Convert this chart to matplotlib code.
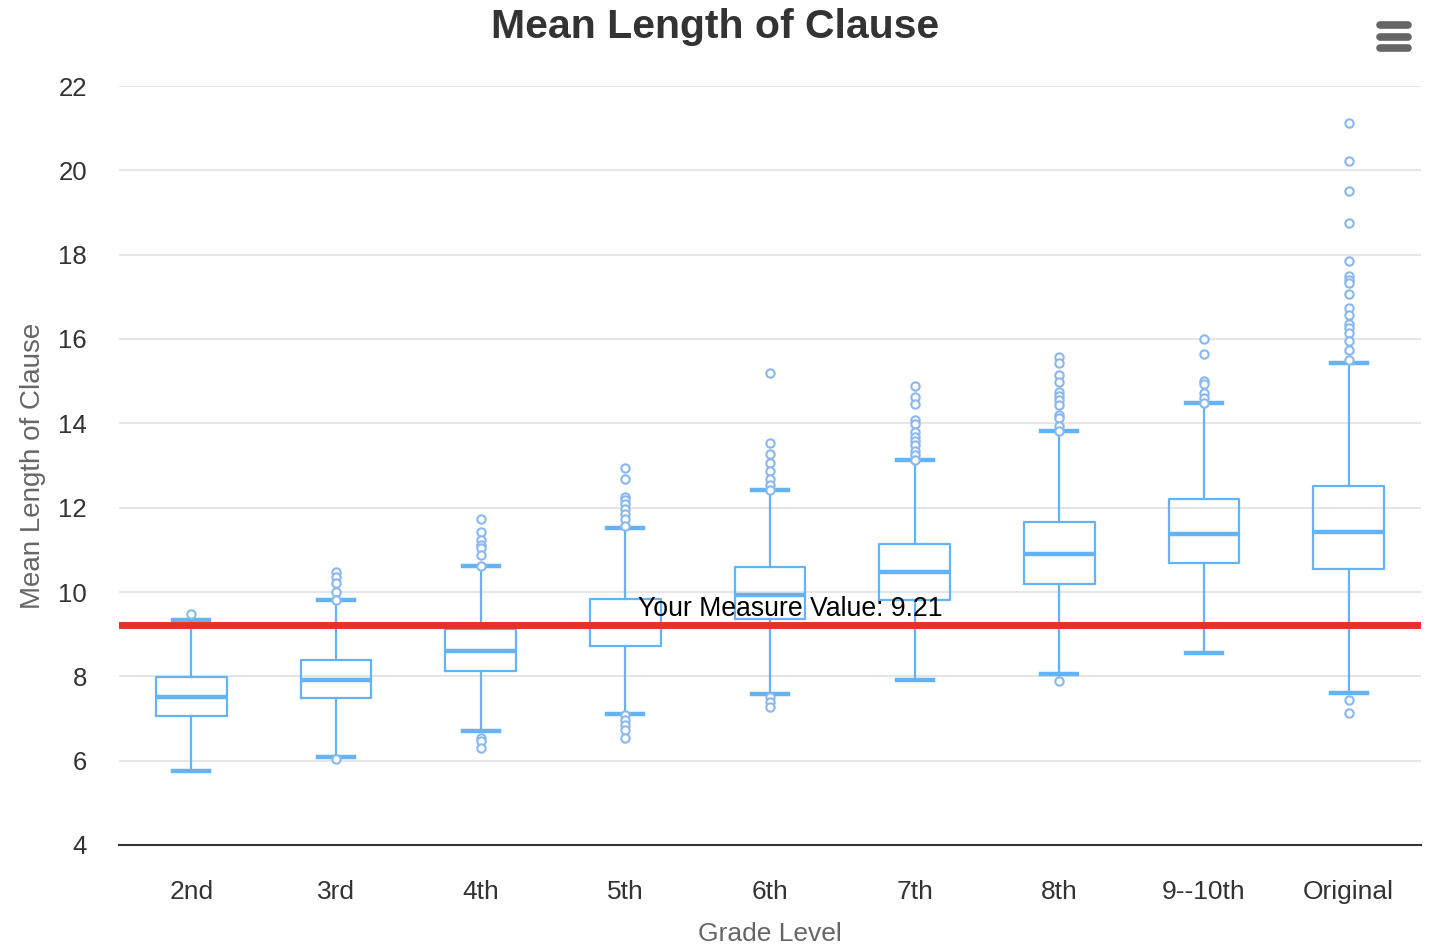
import matplotlib
matplotlib.use("Agg")
import matplotlib.pyplot as plt
from matplotlib.lines import Line2D

plt.rcParams["font.family"] = ["Liberation Sans", "DejaVu Sans"]

# Data
grades = ["2nd", "3rd", "4th", "5th", "6th", "7th", "8th", "9--10th", "Original"]
whisker_low = [5.75, 6.08, 6.70, 7.11, 7.59, 7.91, 8.05, 8.56, 7.60]
q1 = [7.07, 7.48, 8.13, 8.72, 9.36, 9.80, 10.19, 10.69, 10.54]
median = [7.50, 7.91, 8.61, 9.22, 9.93, 10.47, 10.91, 11.37, 11.42]
q3 = [7.98, 8.39, 9.13, 9.83, 10.60, 11.14, 11.65, 12.20, 12.51]
whisker_high = [9.34, 9.81, 10.62, 11.52, 12.42, 13.13, 13.83, 14.49, 15.44]
outliers = [
    [9.47],
    [10.48, 10.36, 10.22, 10.01, 9.81, 6.04],
    [11.73, 11.43, 11.23, 11.11, 11.04, 10.88, 10.62, 6.54, 6.47, 6.30],
    [12.93, 12.67, 12.26, 12.18, 12.08, 11.96, 11.84, 11.72, 11.56,
     7.08, 6.96, 6.85, 6.73, 6.54],
    [15.19, 13.53, 13.27, 13.07, 12.87, 12.67, 12.54, 12.42, 7.51, 7.40, 7.28],
    [14.88, 14.62, 14.46, 14.08, 13.99, 13.79, 13.67, 13.58, 13.49, 13.34,
     13.25, 13.13],
    [15.57, 15.44, 15.15, 14.99, 14.75, 14.65, 14.55, 14.43, 14.20, 14.12,
     13.94, 13.83, 7.90],
    [16.00, 15.64, 15.00, 14.93, 14.73, 14.59, 14.49],
    [21.12, 20.21, 19.51, 18.76, 17.85, 17.50, 17.40, 17.32, 17.06, 16.73,
     16.56, 16.36, 16.26, 16.14, 15.96, 15.74, 15.50, 7.44, 7.14],
]
measure_value = 9.21

BOX = "#63b3f5"
FLIER = "#8ab8ee"

fig = plt.figure(figsize=(14.3, 9.5), dpi=100)
ax = fig.add_axes([119 / 1430, 1 - 845 / 950, (1421 - 119) / 1430, (845 - 86) / 950])

stats = []
for i, g in enumerate(grades):
    stats.append({
        "label": g, "whislo": whisker_low[i], "q1": q1[i], "med": median[i],
        "q3": q3[i], "whishi": whisker_high[i], "fliers": outliers[i],
    })

positions = list(range(len(grades)))
ax.bxp(
    stats, positions=positions, widths=0.49, showfliers=True, capwidths=0.25,
    boxprops=dict(color=BOX, linewidth=1.6),
    medianprops=dict(color=BOX, linewidth=3.2),
    whiskerprops=dict(color=BOX, linewidth=1.6),
    capprops=dict(color=BOX, linewidth=3.2),
    flierprops=dict(marker="o", markersize=6, markerfacecolor="white",
                    markeredgecolor=FLIER, markeredgewidth=1.5, linestyle="none"),
    zorder=3,
)

ax.axhline(measure_value, color="#e8302a", linewidth=5, zorder=4)
ax.text(3.09, measure_value + 0.38, f"Your Measure Value: {measure_value}",
        fontsize=19.2, color="black", ha="left", va="center", zorder=5)

ax.set_xlim(-0.5, len(grades) - 0.5)
ax.set_ylim(4, 22)
ax.set_yticks(range(4, 23, 2))
ax.set_xticks(positions)
ax.set_xticklabels(grades)
ax.grid(axis="y", color="#e6e6e6", linewidth=1.5, zorder=0)
ax.set_axisbelow(True)
for s in ["top", "right", "left"]:
    ax.spines[s].set_visible(False)
ax.spines["bottom"].set_color("#333333")
ax.spines["bottom"].set_linewidth(1.5)
ax.tick_params(axis="y", length=0, pad=23, labelsize=18.5, labelcolor="#333333")
ax.tick_params(axis="x", length=0, pad=25, labelsize=19, labelcolor="#333333")

ax.set_xlabel("Grade Level", fontsize=19, color="#666666", labelpad=13)
ax.set_ylabel("Mean Length of Clause", fontsize=20, color="#666666", labelpad=9)

fig.text(0.5, 1 - 27 / 950, "Mean Length of Clause", ha="center", va="center",
         fontsize=29.5, fontweight="bold", color="#333333")

# export menu icon
for yy in [25, 37, 48]:
    fig.add_artist(Line2D([1380 / 1430, 1408 / 1430], [1 - yy / 950, 1 - yy / 950],
                          color="#666666", linewidth=5.5, solid_capstyle="round"))

fig.savefig("out.png", dpi=100, facecolor="white")
